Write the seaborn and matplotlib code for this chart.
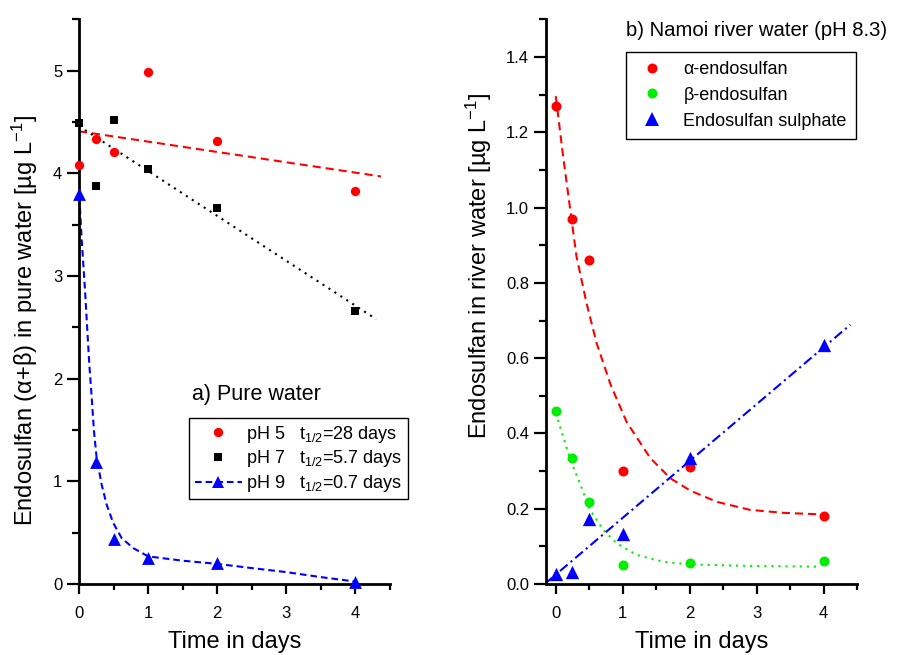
import matplotlib
matplotlib.use("Agg")
import matplotlib.pyplot as plt
from matplotlib.lines import Line2D
from matplotlib.ticker import MultipleLocator, FormatStrFormatter
import seaborn as sns

# ---------------- data ----------------
time_points = [0, 0.25, 0.5, 1, 2, 4]

# a) pure water (sum alpha+beta)
ph5 = [4.08, 4.33, 4.21, 4.99, 4.32, 3.83]
ph7 = [4.49, 3.88, 4.52, 4.04, 3.66, 2.66]
ph9 = [3.80, 1.19, 0.44, 0.25, 0.20, 0.02]

ph5_fit_x = [0.0, 4.37]
ph5_fit_y = [4.41, 3.97]
ph7_fit_x = [0.0, 4.30]
ph7_fit_y = [4.46, 2.58]
ph9_fit_x = [0.005, 0.039, 0.087, 0.120, 0.149, 0.183, 0.216, 0.255, 0.327, 0.399,
             0.495, 0.616, 0.784, 1.0, 1.5, 1.987, 2.5, 2.997, 3.5, 3.997]
ph9_fit_y = [3.77, 3.35, 2.86, 2.47, 2.14, 1.82, 1.49, 1.23, 0.97, 0.774,
             0.595, 0.448, 0.350, 0.269, 0.227, 0.197, 0.155, 0.116, 0.067, 0.024]

# b) Namoi river water
alpha = [1.27, 0.97, 0.86, 0.30, 0.31, 0.18]
beta = [0.46, 0.335, 0.217, 0.05, 0.055, 0.062]
sulphate = [0.026, 0.033, 0.174, 0.133, 0.334, 0.634]

alpha_fit_x = [0.0, 0.11, 0.21, 0.31, 0.46, 0.61, 0.82, 1.06, 1.41, 1.71, 2.01,
               2.41, 2.90, 3.40, 3.95]
alpha_fit_y = [1.296, 1.136, 1.003, 0.870, 0.746, 0.640, 0.529, 0.43, 0.335, 0.281,
               0.248, 0.218, 0.197, 0.189, 0.185]
beta_fit_x = [0.0, 0.11, 0.22, 0.36, 0.51, 0.71, 0.91, 1.21, 1.61, 2.0, 2.9, 3.95]
beta_fit_y = [0.454, 0.392, 0.33, 0.268, 0.197, 0.144, 0.108, 0.077, 0.059, 0.052,
              0.048, 0.046]
sulphate_fit_x = [-0.165, 4.40]
sulphate_fit_y = [0.0, 0.689]

legend_a = ["pH 5   t$_{1/2}$=28 days", "pH 7   t$_{1/2}$=5.7 days", "pH 9   t$_{1/2}$=0.7 days"]
legend_b = ["\u03b1-endosulfan", "\u03b2-endosulfan", "Endosulfan sulphate"]

# ---------------- style ----------------
sns.set_theme(style="ticks")
plt.rcParams["font.family"] = ["Liberation Sans", "DejaVu Sans"]
plt.rcParams["mathtext.fontset"] = "custom"
plt.rcParams["mathtext.rm"] = "Liberation Sans"
plt.rcParams["mathtext.it"] = "Liberation Sans:italic"
plt.rcParams["mathtext.bf"] = "Liberation Sans:bold"
plt.rcParams["axes.unicode_minus"] = False
for key in ["text.color", "axes.labelcolor", "xtick.color", "ytick.color"]:
    plt.rcParams[key] = "black"

RED, GREEN, BLUE, BLACK = "#ff0000", "#00ee00", "#0000ff", "#000000"
LW = 1.5

fig = plt.figure(figsize=(8.98, 6.55), dpi=100)
axA = fig.add_axes([0.088, 0.1084, 0.3463, 0.862])
axB = fig.add_axes([0.6077, 0.1084, 0.3467, 0.862])


def style_axes(ax):
    for s in ["top", "right"]:
        ax.spines[s].set_visible(False)
    for s in ["left", "bottom"]:
        ax.spines[s].set_linewidth(2.0)
        ax.spines[s].set_color("black")
    ax.tick_params(axis="y", which="major", direction="out", length=8.5, width=1.6,
                   labelsize=12, pad=3.5)
    ax.tick_params(axis="y", which="minor", direction="out", length=5, width=1.6)
    ax.tick_params(axis="x", which="major", direction="out", length=7, width=1.6,
                   labelsize=12, pad=9)
    ax.tick_params(axis="x", which="minor", direction="out", length=4.5, width=1.6)
    ax.set_facecolor("white")


# ---------------- panel a ----------------
sns.lineplot(x=ph5_fit_x, y=ph5_fit_y, ax=axA, color=RED, lw=LW, sort=False,
             estimator=None, linestyle=(0, (3.9, 2.4)))
sns.lineplot(x=ph7_fit_x, y=ph7_fit_y, ax=axA, color=BLACK, lw=LW, sort=False,
             estimator=None, linestyle=(0, (1.0, 2.4)))
sns.lineplot(x=ph9_fit_x, y=ph9_fit_y, ax=axA, color=BLUE, lw=LW, sort=False,
             estimator=None, linestyle=(0, (3.2, 1.9)))
sns.scatterplot(x=time_points, y=ph5, ax=axA, color=RED, marker="o", s=45,
                linewidth=0, legend=False, clip_on=False, zorder=4)
sns.scatterplot(x=time_points, y=ph7, ax=axA, color=BLACK, marker="s", s=30,
                linewidth=0, legend=False, clip_on=False, zorder=4)
sns.scatterplot(x=time_points, y=ph9, ax=axA, color=BLUE, marker="^", s=85,
                linewidth=0, legend=False, clip_on=False, zorder=4)

axA.set_xlim(0, 4.5)
axA.set_ylim(0, 5.5)
axA.xaxis.set_major_locator(MultipleLocator(1))
axA.xaxis.set_minor_locator(MultipleLocator(0.5))
axA.yaxis.set_major_locator(MultipleLocator(1))
axA.yaxis.set_minor_locator(MultipleLocator(0.5))
style_axes(axA)
axA.set_xlabel("Time in days", fontsize=17)
axA.set_ylabel("Endosulfan (\u03b1+\u03b2) in pure water [\u00b5g L$^{-1}$]", fontsize=17)
axA.xaxis.set_label_coords(0.5, -0.083)
axA.yaxis.set_label_coords(-0.126, 0.466)
axA.text(0.362, 0.335, "a) Pure water", transform=axA.transAxes, fontsize=15.5,
         ha="left", va="center")

handles_a = [
    Line2D([], [], color=RED, marker="o", linestyle="none", markersize=6.7,
           markeredgewidth=0),
    Line2D([], [], color=BLACK, marker="s", linestyle="none", markersize=5.5,
           markeredgewidth=0),
    Line2D([], [], color=BLUE, marker="^", lw=LW, linestyle=(0, (3.2, 1.9)),
           markersize=9.2, markeredgewidth=0),
]
legA = axA.legend(handles_a, legend_a, loc="upper left", bbox_to_anchor=(0.355, 0.2934),
                  bbox_transform=axA.transAxes, borderaxespad=0, fontsize=13,
                  frameon=True, fancybox=False, edgecolor="black", framealpha=1,
                  handlelength=2.6, handletextpad=0.25, borderpad=0.3, labelspacing=0.2)
legA.get_frame().set_linewidth(1.0)

# ---------------- panel b ----------------
sns.lineplot(x=alpha_fit_x, y=alpha_fit_y, ax=axB, color=RED, lw=LW, sort=False,
             estimator=None, linestyle=(0, (3.9, 2.4)))
sns.lineplot(x=beta_fit_x, y=beta_fit_y, ax=axB, color=GREEN, lw=LW, sort=False,
             estimator=None, linestyle=(0, (1.0, 2.4)))
sns.lineplot(x=sulphate_fit_x, y=sulphate_fit_y, ax=axB, color=BLUE, lw=LW, sort=False,
             estimator=None, linestyle=(0, (4.8, 1.9, 1.0, 1.9)))
sns.scatterplot(x=time_points, y=alpha, ax=axB, color=RED, marker="o", s=52,
                linewidth=0, legend=False, clip_on=False, zorder=4)
sns.scatterplot(x=time_points, y=beta, ax=axB, color=GREEN, marker="o", s=52,
                linewidth=0, legend=False, clip_on=False, zorder=4)
sns.scatterplot(x=time_points, y=sulphate, ax=axB, color=BLUE, marker="^", s=92,
                linewidth=0, legend=False, clip_on=False, zorder=4)

axB.set_xlim(-0.15, 4.5)
axB.set_ylim(0, 1.5)
axB.xaxis.set_major_locator(MultipleLocator(1))
axB.xaxis.set_minor_locator(MultipleLocator(0.5))
axB.yaxis.set_major_locator(MultipleLocator(0.2))
axB.yaxis.set_minor_locator(MultipleLocator(0.1))
axB.yaxis.set_major_formatter(FormatStrFormatter("%.1f"))
style_axes(axB)
axB.set_xlabel("Time in days", fontsize=17)
axB.set_ylabel("Endosulfan in river water [\u00b5g L$^{-1}$]", fontsize=17)
axB.xaxis.set_label_coords(0.5, -0.083)
axB.yaxis.set_label_coords(-0.165, 0.563)
axB.text(0.258, 0.981, "b) Namoi river water (pH 8.3)", transform=axB.transAxes,
         fontsize=14.6, ha="left", va="center")

handles_b = [
    Line2D([], [], color=RED, marker="o", linestyle="none", markersize=7.2,
           markeredgewidth=0),
    Line2D([], [], color=GREEN, marker="o", linestyle="none", markersize=7.2,
           markeredgewidth=0),
    Line2D([], [], color=BLUE, marker="^", linestyle="none", markersize=9.6,
           markeredgewidth=0),
]
legB = axB.legend(handles_b, legend_b, loc="upper left", bbox_to_anchor=(0.258, 0.9426),
                  bbox_transform=axB.transAxes, borderaxespad=0, fontsize=13,
                  frameon=True, fancybox=False, edgecolor="black", framealpha=1,
                  handlelength=1.85, handletextpad=0.83, borderpad=0.5, labelspacing=0.49)
legB.get_frame().set_linewidth(1.0)

fig.savefig("out.png", dpi=100, facecolor="white")
